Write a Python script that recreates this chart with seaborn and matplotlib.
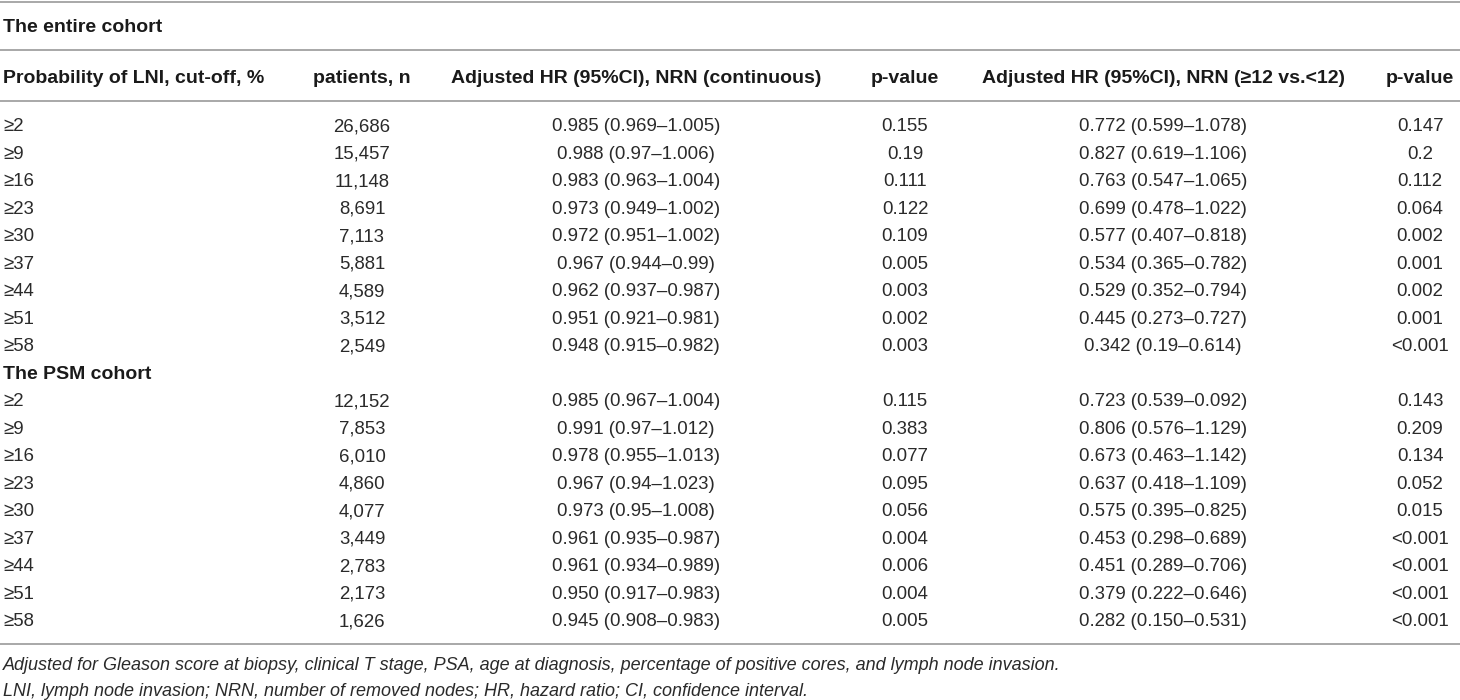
import matplotlib
matplotlib.use("Agg")
import matplotlib.pyplot as plt
import seaborn as sns

sns.set_theme(style="white")
FONT = ["Liberation Sans", "DejaVu Sans"]
plt.rcParams['font.family'] = FONT

# ---- data ----
section_titles = ["The entire cohort", "The PSM cohort"]
col_headers = ["Probability of LNI, cut-off, %", "patients, n",
               "Adjusted HR (95%CI), NRN (continuous)", "p-value",
               "Adjusted HR (95%CI), NRN (≥12 vs.<12)", "p-value"]
cutoffs = ["≥2", "≥9", "≥16", "≥23", "≥30", "≥37", "≥44", "≥51", "≥58"]

entire_n = ["26,686", "15,457", "11,148", "8,691", "7,113", "5,881", "4,589", "3,512", "2,549"]
entire_hr_cont = ["0.985 (0.969–1.005)", "0.988 (0.97–1.006)", "0.983 (0.963–1.004)",
                  "0.973 (0.949–1.002)", "0.972 (0.951–1.002)", "0.967 (0.944–0.99)",
                  "0.962 (0.937–0.987)", "0.951 (0.921–0.981)", "0.948 (0.915–0.982)"]
entire_p_cont = ["0.155", "0.19", "0.111", "0.122", "0.109", "0.005", "0.003", "0.002", "0.003"]
entire_hr_cat = ["0.772 (0.599–1.078)", "0.827 (0.619–1.106)", "0.763 (0.547–1.065)",
                 "0.699 (0.478–1.022)", "0.577 (0.407–0.818)", "0.534 (0.365–0.782)",
                 "0.529 (0.352–0.794)", "0.445 (0.273–0.727)", "0.342 (0.19–0.614)"]
entire_p_cat = ["0.147", "0.2", "0.112", "0.064", "0.002", "0.001", "0.002", "0.001", "<0.001"]

psm_n = ["12,152", "7,853", "6,010", "4,860", "4,077", "3,449", "2,783", "2,173", "1,626"]
psm_hr_cont = ["0.985 (0.967–1.004)", "0.991 (0.97–1.012)", "0.978 (0.955–1.013)",
               "0.967 (0.94–1.023)", "0.973 (0.95–1.008)", "0.961 (0.935–0.987)",
               "0.961 (0.934–0.989)", "0.950 (0.917–0.983)", "0.945 (0.908–0.983)"]
psm_p_cont = ["0.115", "0.383", "0.077", "0.095", "0.056", "0.004", "0.006", "0.004", "0.005"]
psm_hr_cat = ["0.723 (0.539–0.092)", "0.806 (0.576–1.129)", "0.673 (0.463–1.142)",
              "0.637 (0.418–1.109)", "0.575 (0.395–0.825)", "0.453 (0.298–0.689)",
              "0.451 (0.289–0.706)", "0.379 (0.222–0.646)", "0.282 (0.150–0.531)"]
psm_p_cat = ["0.143", "0.209", "0.134", "0.052", "0.015", "<0.001", "<0.001", "<0.001", "<0.001"]

footnotes = ["Adjusted for Gleason score at biopsy, clinical T stage, PSA, age at diagnosis, percentage of positive cores, and lymph node invasion.",
             "LNI, lymph node invasion; NRN, number of removed nodes; HR, hazard ratio; CI, confidence interval."]

# ---- layout ----
W, H = 1460, 700
fig = plt.figure(figsize=(W / 100, H / 100), dpi=100)
ax = fig.add_axes([0, 0, 1, 1])
ax.set_xlim(0, W)
ax.set_ylim(H, 0)
ax.axis("off")

col_x = [3, 362, 636, 905, 1163, 1420]
col_ha = ["left", "center", "center", "center", "center", "center"]
FS_D, FS_H, FS_F = 13.4, 14.0, 13.0
TXT_D = "#2a2a2a"
TXT_H = "#1a1a1a"
LINE = "#9a9a9a"


def put(x, y, s, fs, **kw):
    # baseline placed so that cap-height is centred on y
    ax.text(x, y + 0.36 * fs * 100 / 72, s, fontsize=fs, va="baseline", **kw)


for y in [1.5, 49.5, 100.5, 643.5]:
    ax.axhline(y, color=LINE, lw=1.2)

put(3, 25, section_titles[0], FS_H, fontweight="bold", ha="left", color=TXT_H)
for x, ha, h in zip(col_x, col_ha, col_headers):
    put(x, 76, h, FS_H, fontweight="bold", ha=ha, color=TXT_H)

row0, dy = 124.5, 27.5
blocks = [(entire_n, entire_hr_cont, entire_p_cont, entire_hr_cat, entire_p_cat),
          (psm_n, psm_hr_cont, psm_p_cont, psm_hr_cat, psm_p_cat)]
r = 0
for b, cols in enumerate(blocks):
    if b == 1:
        put(3, row0 + r * dy, section_titles[1], FS_H, fontweight="bold", ha="left", color=TXT_H)
        r += 1
    for i, c in enumerate(cutoffs):
        y = row0 + r * dy
        vals = [c] + [col[i] for col in cols]
        for x, ha, v in zip(col_x, col_ha, vals):
            put(x, y, v, FS_D, ha=ha, color=TXT_D)
        r += 1

for k, t in enumerate(footnotes):
    put(3, 664 + k * 25, t, FS_F, style="italic", ha="left", color=TXT_D)

fig.savefig("out.png", dpi=100, facecolor="white")
